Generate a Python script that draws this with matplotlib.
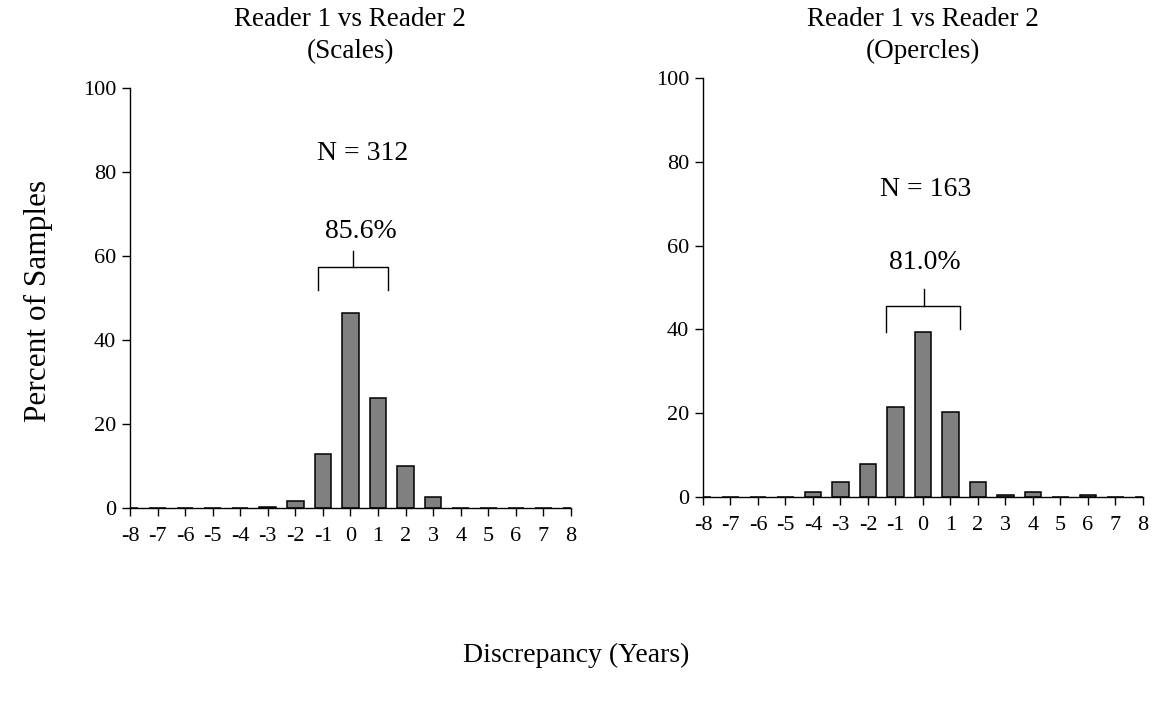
import matplotlib.pyplot as plt
import numpy as np

plt.rcParams['font.family'] = ['Liberation Serif', 'DejaVu Serif']
plt.rcParams['axes.unicode_minus'] = False

# discrepancy classes (years)
discrepancy = np.arange(-8, 9)

# percent of samples, reader 1 vs reader 2
scales_pct = [0, 0, 0, 0, 0, 0.3, 1.6, 12.8, 46.5, 26.3, 9.9, 2.6, 0, 0, 0, 0, 0]
opercles_pct = [0, 0, 0, 0, 1.2, 3.7, 8.0, 21.5, 39.3, 20.2, 3.7, 0.6, 1.2, 0, 0.6, 0, 0]

titles = ['Reader 1 vs Reader 2\n(Scales)', 'Reader 1 vs Reader 2\n(Opercles)']
n_labels = ['N = 312', 'N = 163']
agree_labels = ['85.6%', '81.0%']


def draw_panel(ax, values, n_text, agree_text, n_pos, agree_pos, bracket):
    ax.bar(discrepancy, values, width=0.6, color='#808080',
           edgecolor='black', linewidth=1.1)
    ax.set_xlim(-8, 8)
    ax.set_ylim(0, 100)
    ax.set_xticks(discrepancy)
    ax.set_yticks(np.arange(0, 101, 20))
    for side in ['top', 'right']:
        ax.spines[side].set_visible(False)
    for side in ['left', 'bottom']:
        ax.spines[side].set_linewidth(1.0)
    ax.tick_params(direction='out', length=6, width=1.0, labelsize=16)
    ax.tick_params(axis='x', pad=8)
    ax.tick_params(axis='y', pad=4)

    ax.text(n_pos[0], n_pos[1], n_text, ha='center', va='center', fontsize=20)
    ax.text(agree_pos[0], agree_pos[1], agree_text, ha='center', va='center', fontsize=20)

    # bracket around -1..1
    x0, x1, yb, y0l, y0r, xc, yt = bracket
    ax.plot([x0, x0, x1, x1], [y0l, yb, yb, y0r], color='black', linewidth=1.0)
    ax.plot([xc, xc], [yb, yt], color='black', linewidth=1.0)


fig = plt.figure(figsize=(11.53, 7.17), dpi=100)
ax1 = fig.add_axes([0.1127, 0.2915, 0.3825, 0.5858])
ax2 = fig.add_axes([0.6097, 0.3068, 0.3816, 0.5844])

draw_panel(ax1, scales_pct, n_labels[0], agree_labels[0],
           (0.45, 84.5), (0.39, 65.8), (-1.19, 1.38, 57.3, 51.8, 51.8, 0.09, 61.3))
draw_panel(ax2, opercles_pct, n_labels[1], agree_labels[1],
           (0.08, 73.5), (0.08, 56.0), (-1.36, 1.34, 45.7, 39.3, 40.1, 0.05, 49.7))

fig.text(0.3039, 0.99, titles[0], ha='center', va='top', fontsize=19.5, linespacing=1.35)
fig.text(0.8005, 0.99, titles[1], ha='center', va='top', fontsize=19.5, linespacing=1.35)

fig.text(0.033, 0.58, 'Percent of Samples', rotation=90, ha='center', va='center', fontsize=22.5)
fig.text(0.4995, 0.086, 'Discrepancy (Years)', ha='center', va='center', fontsize=20)

fig.savefig('out.png', dpi=100)
